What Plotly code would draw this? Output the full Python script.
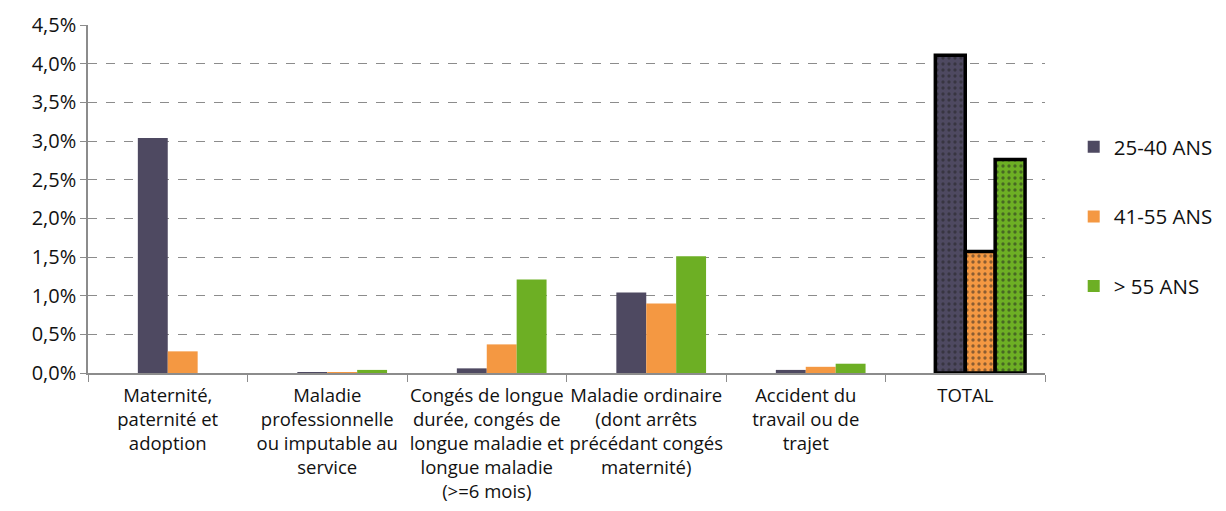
import plotly.graph_objects as go

categories = [
    "Maternité,<br>paternité et<br>adoption",
    "Maladie<br>professionnelle<br>ou imputable au<br>service",
    "Congés de longue<br>durée, congés de<br>longue maladie et<br>longue maladie<br>(>=6 mois)",
    "Maladie ordinaire<br>(dont arrêts<br>précédant congés<br>maternité)",
    "Accident du<br>travail ou de<br>trajet",
    "TOTAL",
]
series_names = ["25-40 ANS", "41-55 ANS", "> 55 ANS"]
# empty first series slot present in the original chart (no data, not in legend)
v_empty = [None, None, None, None, None, None]
v_25_40 = [0.0304, 0.0001, 0.0006, 0.0104, 0.0004, 0.0411]
v_41_55 = [0.0028, 0.00005, 0.0037, 0.0090, 0.0008, 0.0157]
v_55 = [0.0, 0.0004, 0.0121, 0.0151, 0.0012, 0.0276]
colors = ["#4E4961", "#F49842", "#6DAF24"]
tick_vals = [0, 0.005, 0.01, 0.015, 0.02, 0.025, 0.03, 0.035, 0.04, 0.045]
tick_text = ["0,0%", "0,5%", "1,0%", "1,5%", "2,0%", "2,5%", "3,0%", "3,5%", "4,0%", "4,5%"]

font = "Open Sans, sans-serif"
fig = go.Figure()
n = len(categories)
fig.add_trace(go.Bar(x=categories, y=v_empty, name="", showlegend=False,
                     hoverinfo="skip", marker=dict(color="rgba(0,0,0,0)")))
for name, vals, col in zip(series_names, [v_25_40, v_41_55, v_55], colors):
    fig.add_trace(go.Bar(
        x=categories, y=vals, name=name, legendgroup=name,
        marker=dict(
            color=col,
            line=dict(color="black", width=[0] * (n - 1) + [3.5]),
            pattern=dict(shape=[""] * (n - 1) + ["."], fgcolor="#222222",
                         size=6, solidity=0.25, fillmode="overlay"),
        ),
    ))

fig.update_layout(
    width=1226, height=511,
    barmode="group", bargap=0.25, bargroupgap=0,
    plot_bgcolor="white", paper_bgcolor="white",
    margin=dict(l=80, r=189, t=17, b=146, autoexpand=False),
    font=dict(family=font, size=17, color="#111111"),
    showlegend=True,
    legend=dict(x=1.03, y=0.45, yanchor="middle", xanchor="left",
                font=dict(size=20.5), tracegroupgap=40, itemwidth=30),
    yaxis=dict(range=[0, 0.045], tickvals=tick_vals, ticktext=tick_text,
               showgrid=True, gridcolor="#8C8C8C", griddash="dash", gridwidth=1,
               showline=True, linecolor="#8C8C8C", linewidth=1.5,
               ticks="outside", ticklen=6, tickcolor="#8C8C8C",
               tickfont=dict(size=20), zeroline=False),
    xaxis=dict(showline=True, linecolor="#8C8C8C", linewidth=2,
               ticks="outside", tickson="boundaries", ticklen=7, tickcolor="#8C8C8C",
               tickangle=0, tickfont=dict(size=18.5), ticklabelstandoff=5),
)

fig.write_html("out.html")
